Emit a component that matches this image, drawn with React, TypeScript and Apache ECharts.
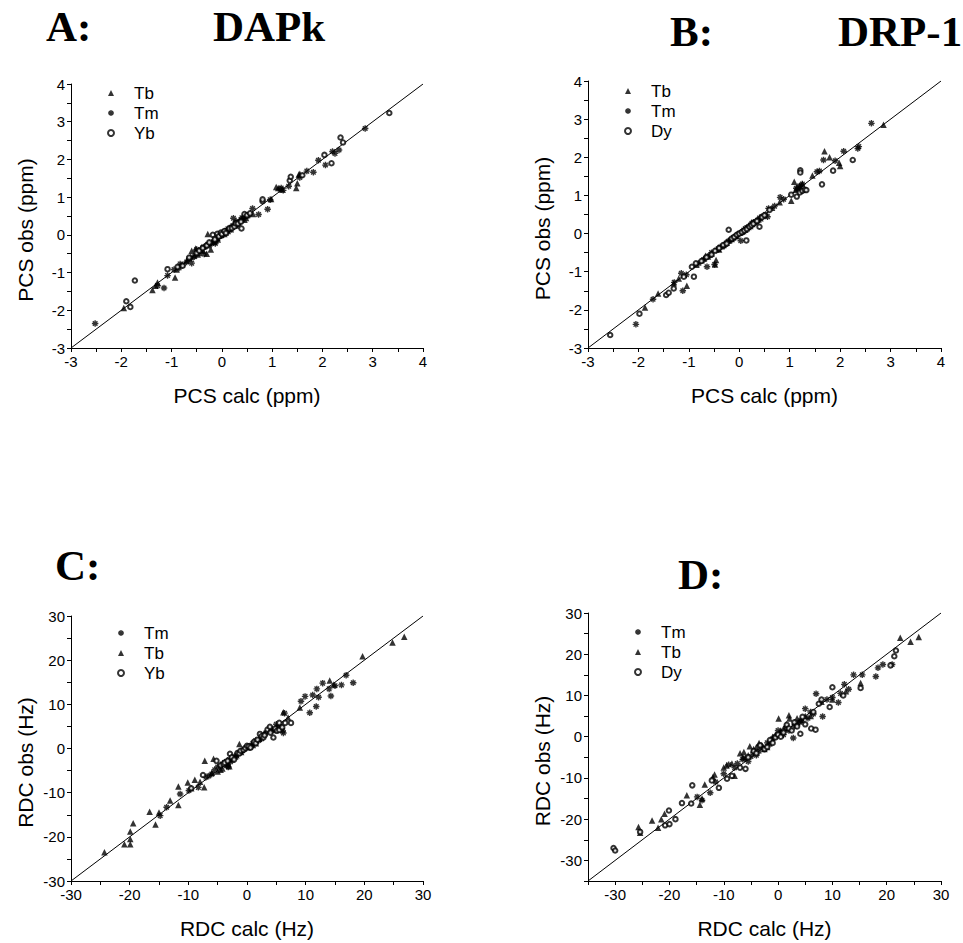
import React, { useEffect, useRef } from "react";
import * as echarts from "echarts";

// ---------- Data ----------
// Panel A: DAPk PCS (ppm)  [calc, obs]
const A_TB: number[][] = [
  [-1.95, -1.94], [-1.38, -1.46], [-1.32, -1.35], [-1.28, -1.26], [-0.93, -1.13], [-0.9, -0.92],
  [-0.7, -0.68], [-0.65, -0.62], [-0.62, -0.58], [-0.6, -0.42], [-0.55, -0.55], [-0.52, -0.36],
  [-0.48, -0.52], [-0.45, -0.48], [-0.42, -0.38], [-0.4, -0.32], [-0.38, -0.42], [-0.35, -0.3],
  [-0.3, -0.5], [-0.28, 0.02], [-0.25, -0.22], [-0.22, -0.39], [-0.18, -0.15], [-0.15, -0.18],
  [-0.1, -0.08], [-0.08, -0.12], [-0.05, -0.02], [-0.02, 0.0], [0.02, 0.05], [0.05, 0.02],
  [0.08, 0.06], [0.12, 0.1], [0.15, 0.18], [0.18, 0.15], [0.2, 0.22], [0.25, 0.3], [0.28, 0.25],
  [0.3, 0.28], [0.35, 0.38], [0.4, 0.42], [0.45, 0.4], [0.48, 0.45], [0.62, 0.55], [0.98, 0.95],
  [1.08, 1.27], [1.12, 1.24], [1.2, 1.2], [1.48, 1.24], [1.5, 1.37], [1.53, 1.6], [1.55, 1.62],
];
const A_TM: number[][] = [
  [-2.52, -2.35], [-1.28, -1.35], [-1.15, -1.41], [-1.08, -1.08], [-0.95, -0.92], [-0.85, -0.88],
  [-0.83, -0.77], [-0.78, -0.8], [-0.7, -0.72], [-0.65, -0.63], [-0.6, -0.75], [-0.55, -0.58],
  [-0.5, -0.39], [-0.48, -0.45], [-0.42, -0.4], [-0.38, -0.34], [-0.35, -0.51], [-0.32, -0.3],
  [-0.28, -0.25], [-0.25, -0.28], [-0.2, -0.22], [-0.16, -0.18], [-0.13, -0.23], [-0.12, -0.15],
  [-0.08, -0.1], [-0.05, -0.03], [0.0, -0.02], [0.02, 0.04], [0.05, 0.08], [0.1, 0.12],
  [0.12, 0.16], [0.15, 0.13], [0.18, 0.2], [0.22, 0.25], [0.23, 0.44], [0.26, 0.24], [0.28, 0.35],
  [0.3, 0.33], [0.34, 0.3], [0.38, 0.4], [0.4, 0.45], [0.45, 0.48], [0.48, 0.5], [0.52, 0.5],
  [0.61, 0.7], [0.73, 0.54], [0.91, 0.68], [0.96, 0.93], [1.16, 1.21], [1.18, 1.24], [1.22, 1.18],
  [1.33, 1.29], [1.55, 1.52], [1.69, 1.69], [1.82, 1.66], [1.92, 1.98], [2.06, 1.85], [2.2, 2.21],
  [2.25, 2.16], [2.33, 2.25], [2.85, 2.82],
];
const A_YB: number[][] = [
  [-1.9, -1.76], [-1.82, -1.91], [-1.73, -1.21], [-1.08, -0.91], [-0.88, -0.85], [-0.78, -0.82],
  [-0.65, -0.6], [-0.5, -0.48], [-0.45, -0.42], [-0.38, -0.35], [-0.3, -0.28], [-0.25, -0.2],
  [-0.18, 0.0], [-0.14, -0.12], [-0.09, 0.03], [-0.06, -0.04], [-0.02, 0.06], [0.0, 0.02],
  [0.05, 0.1], [0.08, 0.05], [0.15, 0.17], [0.2, 0.18], [0.25, 0.22], [0.28, 0.3], [0.32, 0.3],
  [0.38, 0.35], [0.39, 0.17], [0.45, 0.55], [0.5, 0.52], [0.56, 0.57], [0.81, 0.89], [0.81, 0.94],
  [1.35, 1.44], [1.37, 1.54], [1.6, 1.58], [2.04, 2.12], [2.18, 1.9], [2.36, 2.58], [2.41, 2.45],
  [3.33, 3.23],
];

// Panel B: DRP-1 PCS (ppm)
const B_TB: number[][] = [
  [-1.87, -1.94], [-1.61, -1.57], [-1.3, -1.3], [-1.2, -1.18], [-1.04, -1.37], [-0.85, -0.82],
  [-0.75, -0.7], [-0.7, -0.65], [-0.67, -0.58], [-0.62, -0.6], [-0.58, -0.55], [-0.55, -0.52],
  [-0.48, -0.81], [-0.46, -0.69], [-0.42, -0.4], [-0.4, -0.42], [-0.35, -0.33], [-0.32, -0.3],
  [-0.28, -0.26], [-0.25, -0.24], [-0.2, -0.18], [-0.15, -0.14], [-0.12, -0.1], [-0.08, -0.07],
  [-0.05, -0.06], [0.02, 0.02], [0.05, 0.05], [0.08, 0.07], [0.12, 0.1], [0.15, 0.14],
  [0.18, 0.17], [0.22, 0.2], [0.26, 0.25], [0.3, 0.3], [0.34, 0.33], [0.38, 0.37], [0.42, 0.4],
  [0.5, 0.48], [0.65, 0.68], [0.8, 0.82], [1.03, 0.86], [1.09, 1.36], [1.12, 1.15], [1.15, 1.22],
  [1.2, 1.25], [1.25, 1.3], [1.45, 1.52], [1.69, 2.16], [1.79, 2.0], [1.98, 1.86], [2.0, 1.77],
  [2.86, 2.85],
];
const B_TM: number[][] = [
  [-2.05, -2.38], [-1.71, -1.72], [-1.29, -1.28], [-1.15, -1.04], [-1.12, -1.5], [-1.05, -1.08],
  [-0.8, -0.78], [-0.7, -0.68], [-0.64, -0.87], [-0.6, -0.58], [-0.55, -0.5], [-0.49, -0.81],
  [-0.45, -0.44], [-0.42, -0.4], [-0.38, -0.35], [-0.3, -0.32], [-0.26, -0.25], [-0.22, -0.2],
  [-0.18, -0.17], [-0.15, -0.15], [-0.11, -0.1], [-0.08, -0.07], [-0.04, -0.04], [0.0, 0.01],
  [0.03, -0.19], [0.06, 0.05], [0.09, 0.09], [0.12, 0.13], [0.15, 0.15], [0.18, 0.17], [0.22, 0.22],
  [0.25, 0.27], [0.28, 0.3], [0.32, 0.3], [0.36, 0.35], [0.4, 0.41], [0.45, 0.45], [0.52, 0.5],
  [0.56, 0.44], [0.58, 0.66], [0.7, 0.72], [0.81, 0.95], [0.88, 0.9], [1.13, 1.19], [1.18, 1.15],
  [1.2, 1.25], [1.25, 1.3], [1.54, 1.62], [1.59, 1.64], [1.67, 1.93], [1.9, 1.91], [2.07, 2.16],
  [2.35, 2.23], [2.37, 2.28], [2.62, 2.89],
];
const B_DY: number[][] = [
  [-2.56, -2.66], [-1.98, -2.1], [-1.45, -1.61], [-1.4, -1.55], [-1.3, -1.44], [-1.1, -1.13],
  [-0.94, -0.87], [-0.9, -1.13], [-0.86, -0.78], [-0.75, -0.72], [-0.65, -0.62], [-0.55, -0.55],
  [-0.48, -0.45], [-0.4, -0.38], [-0.32, -0.3], [-0.25, -0.26], [-0.21, 0.1], [-0.15, -0.13],
  [-0.1, -0.09], [-0.05, -0.03], [0.0, 0.0], [0.05, 0.04], [0.1, 0.08], [0.14, -0.18], [0.15, 0.12],
  [0.2, 0.18], [0.24, 0.22], [0.28, 0.26], [0.35, 0.33], [0.4, 0.18], [0.45, 0.43], [0.5, 0.48],
  [0.6, 0.62], [1.03, 1.02], [1.14, 0.97], [1.2, 1.08], [1.21, 1.66], [1.21, 1.6], [1.25, 1.12],
  [1.3, 1.15], [1.33, 1.14], [1.64, 1.29], [1.86, 1.65], [2.25, 1.93],
];

// Panel C: DAPk RDC (Hz)
const C_TM: number[][] = [
  [-14.8, -15.2], [-13.7, -13.3], [-11.4, -10.3], [-9.9, -9.5], [-8.3, -8.8], [-7.0, -6.5],
  [-6.5, -6.2], [-6.0, -5.8], [-5.5, -4.8], [-5.0, -4.2], [-4.5, -4.0], [-4.2, -3.5], [-3.8, -3.2],
  [-3.5, -3.9], [-3.2, -4.2], [-3.0, -2.5], [-2.8, -3.0], [-2.5, -2.2], [-2.2, -2.0], [-1.8, -1.5],
  [-1.5, -1.2], [-1.0, -0.8], [-0.8, -0.5], [0.0, 0.2], [0.5, 0.3], [0.8, 0.6], [1.0, 1.2],
  [1.5, 1.8], [2.0, 1.8], [2.5, 2.2], [2.8, 3.0], [3.2, 3.5], [4.0, 4.5], [4.3, 4.0], [4.8, 4.2],
  [5.0, 5.5], [5.5, 5.0], [5.8, 4.5], [6.1, 4.0], [6.2, 3.5], [6.4, 8.0], [9.2, 10.7], [9.9, 11.8],
  [10.7, 8.1], [11.2, 12.1], [11.8, 9.5], [11.9, 13.5], [12.2, 11.6], [12.9, 14.8], [14.0, 13.5],
  [14.3, 11.9], [15.0, 14.2], [16.1, 14.4], [16.9, 16.6], [18.1, 14.9],
];
const C_TB: number[][] = [
  [-24.3, -23.5], [-20.9, -21.7], [-19.9, -21.7], [-19.9, -20.5], [-19.9, -18.8], [-19.4, -16.9],
  [-16.6, -14.3], [-15.6, -17.2], [-15.0, -14.5], [-13.1, -11.8], [-11.7, -12.8], [-11.7, -8.6],
  [-10.1, -7.7], [-9.5, -9.0], [-8.9, -7.1], [-8.0, -7.5], [-7.3, -8.8], [-7.2, -2.8], [-6.0, -5.5],
  [-5.7, -2.3], [-5.0, -5.2], [-4.5, -4.8], [-4.2, -4.5], [-3.8, -3.0], [-3.5, -2.8], [-3.2, -3.5],
  [-3.0, -4.0], [-2.5, -2.5], [-2.0, -1.8], [-1.8, -1.5], [-1.3, 1.0], [-1.0, -0.8], [-0.5, 0.0],
  [0.0, 0.3], [0.5, 0.5], [1.0, 0.8], [1.5, 1.2], [2.0, 2.2], [3.0, 3.5], [4.0, 4.2], [5.0, 5.0],
  [6.2, 8.2], [7.0, 7.0], [9.0, 9.3], [14.1, 15.4], [14.8, 14.5], [19.7, 20.9], [24.8, 24.0],
  [26.8, 25.3],
];
const C_YB: number[][] = [
  [-9.5, -9.0], [-7.5, -6.0], [-5.2, -2.8], [-4.5, -3.8], [-4.0, -3.5], [-3.8, -3.2], [-3.3, -2.8],
  [-2.9, -1.2], [-2.6, -2.0], [-2.2, -2.5], [-1.6, -1.0], [-1.3, -1.1], [-1.1, -0.5], [-0.6, -0.3],
  [-0.3, 0.1], [0.0, 0.6], [0.3, 0.5], [0.6, 0.2], [1.2, 1.5], [1.5, 1.2], [1.8, 2.0], [2.2, 3.3],
  [2.5, 2.8], [2.8, 2.5], [3.0, 3.0], [3.5, 4.3], [3.9, 4.9], [4.0, 3.6], [4.5, 2.5], [4.8, 4.5],
  [5.1, 4.0], [5.5, 5.8], [5.5, 4.2], [6.0, 4.8], [6.5, 5.8], [7.5, 5.8],
];

// Panel D: DRP-1 RDC (Hz)
const D_TM: number[][] = [
  [-14.9, -14.6], [-14.0, -15.4], [-12.5, -13.6], [-11.5, -11.0], [-10.0, -9.0], [-9.1, -6.8],
  [-8.0, -7.5], [-7.5, -6.5], [-6.5, -5.5], [-6.0, -5.2], [-5.5, -6.0], [-5.0, -4.8], [-4.5, -3.8],
  [-4.0, -4.5], [-3.5, -3.5], [-3.0, -2.5], [-2.5, -3.0], [-2.0, -1.5], [-1.5, -1.8], [-1.0, -0.5],
  [-0.5, 0.0], [0.0, 1.5], [0.5, 1.0], [1.0, 0.5], [1.5, 2.0], [2.0, 1.5], [2.8, -0.3], [3.0, 2.5],
  [3.5, 3.0], [4.0, 3.5], [4.2, 4.0], [5.0, 6.8], [5.5, 4.5], [6.0, 6.0], [6.5, 5.5], [7.0, 10.4],
  [8.2, 4.9], [9.0, 9.0], [10.0, 9.5], [11.1, 8.3], [11.5, 10.5], [12.2, 12.7], [13.0, 11.5],
  [13.9, 15.0], [15.5, 15.0], [18.0, 14.6], [18.4, 16.7], [19.3, 17.5], [21.0, 17.5],
];
const D_TB: number[][] = [
  [-25.7, -21.9], [-25.4, -23.3], [-23.2, -20.3], [-22.1, -22.1], [-21.5, -20.0], [-20.9, -18.7],
  [-16.8, -14.2], [-14.4, -16.5], [-14.0, -15.0], [-13.5, -11.6], [-12.0, -9.8], [-11.7, -9.2],
  [-10.0, -7.5], [-9.5, -7.0], [-8.5, -6.5], [-8.0, -9.5], [-7.0, -4.0], [-6.5, -5.0], [-6.3, -3.7],
  [-5.5, -4.5], [-5.2, -2.3], [-4.5, -3.0], [-4.0, -2.5], [-3.5, -1.5], [-3.0, -2.0], [-2.5, -3.0],
  [-2.0, -2.5], [-1.5, -1.0], [-1.0, 0.0], [-0.5, 0.5], [0.1, 4.4], [0.5, 1.5], [1.0, 2.0],
  [1.5, 3.0], [2.0, 5.2], [2.1, 4.4], [3.0, 3.5], [3.5, 4.5], [4.5, 4.0], [5.0, 5.0], [6.0, 5.0],
  [8.0, 8.5], [10.0, 9.0], [12.5, 11.0], [15.2, 13.0], [22.5, 24.0], [24.4, 23.0], [25.9, 24.2],
];
const D_DY: number[][] = [
  [-30.3, -27.0], [-30.0, -27.6], [-25.4, -23.1], [-20.8, -21.5], [-20.1, -17.9], [-20.0, -21.2],
  [-18.9, -20.0], [-17.7, -16.1], [-16.0, -16.2], [-15.8, -11.8], [-12.2, -10.6], [-10.9, -12.4],
  [-9.4, -10.2], [-8.5, -9.5], [-7.0, -7.5], [-6.0, -7.8], [-5.5, -5.0], [-4.5, -3.5], [-4.0, -4.0],
  [-3.3, -2.1], [-2.5, -3.0], [-2.0, -2.5], [-1.5, -0.8], [-1.0, -1.5], [-0.5, -0.2], [0.0, 0.5],
  [0.5, 0.0], [1.0, 1.0], [1.6, 2.9], [2.0, 2.0], [2.5, 1.5], [3.0, 3.5], [3.5, 2.5], [4.1, 0.7],
  [4.5, 4.8], [5.0, 3.0], [6.1, 2.0], [6.5, 6.0], [6.9, 1.7], [7.5, 8.0], [8.0, 9.0], [9.5, 7.2],
  [10.0, 12.0], [12.0, 10.0], [15.2, 11.8], [20.7, 17.3], [21.4, 19.5], [21.7, 20.9],
];

// Axis ranges and labels
const PCS_RANGE = [-3, 4];
const RDC_C_RANGE = [-30, 30];
const RDC_D_RANGE = [-35, 30];
const PANEL_TITLES = [["A:", "DAPk"], ["B:", "DRP-1"], ["C:", ""], ["D:", ""]];
const X_NAMES = ["PCS calc (ppm)", "PCS calc (ppm)", "RDC calc (Hz)", "RDC calc (Hz)"];
const Y_NAMES = ["PCS obs (ppm)", "PCS obs (ppm)", "RDC obs (Hz)", "RDC obs (Hz)"];

const SANS = 'Arial, "Liberation Sans", Helvetica, sans-serif';
const SERIF = '"Times New Roman", "Liberation Serif", serif';
const ASTERISK = "path://M0,5L10,5M5,0L5,10M1.5,1.5L8.5,8.5M8.5,1.5L1.5,8.5";

const TM_STYLE = { color: "rgba(0,0,0,0)", borderColor: "#000", borderWidth: 1.4 };
const CIRCLE_STYLE = { color: "#000", borderColor: "#000", borderWidth: 0.9 };
const SYMBOLS: Record<string, any> = {
  Tb: { symbol: "triangle", symbolSize: 6.5, itemStyle: { color: "#000" } },
  Tm: { symbol: ASTERISK, symbolSize: 6.5, itemStyle: TM_STYLE },
  Yb: { symbol: "emptyCircle", symbolSize: 4.5, itemStyle: CIRCLE_STYLE },
  Dy: { symbol: "emptyCircle", symbolSize: 4.5, itemStyle: CIRCLE_STYLE },
};
const LEGEND_ICON: Record<string, any> = {
  Tb: { icon: "triangle", itemStyle: { color: "#000" } },
  Tm: { icon: ASTERISK, itemStyle: TM_STYLE },
  Yb: { icon: "emptyCircle", itemStyle: CIRCLE_STYLE },
  Dy: { icon: "emptyCircle", itemStyle: CIRCLE_STYLE },
};

export default function App() {
  const ref = useRef<HTMLDivElement>(null);

  useEffect(() => {
    document.body.style.margin = "0";
    if (!ref.current) return;
    const chart = echarts.init(ref.current, null, { renderer: "svg" });

    const grids = [
      { left: 71, top: 84, width: 352, height: 264 },
      { left: 588, top: 81, width: 353, height: 267 },
      { left: 71, top: 616, width: 352, height: 265 },
      { left: 588, top: 613, width: 353, height: 268 },
    ];
    const ranges = [PCS_RANGE, PCS_RANGE, RDC_C_RANGE, RDC_D_RANGE];
    const steps = [0.5, 0.5, 5, 5];
    const labelSteps = [1, 1, 10, 10];

    const panels = [
      { series: [["Tb", A_TB], ["Tm", A_TM], ["Yb", A_YB]], legend: [110, 83] },
      { series: [["Tb", B_TB], ["Tm", B_TM], ["Dy", B_DY]], legend: [627, 81] },
      { series: [["Tm", C_TM], ["Tb", C_TB], ["Yb", C_YB]], legend: [120, 623] },
      { series: [["Tm", D_TM], ["Tb", D_TB], ["Dy", D_DY]], legend: [637, 622] },
    ];

    const mkAxis = (i: number, isX: boolean) => {
      const [min, max] = ranges[i];
      const ls = labelSteps[i];
      return {
        type: "value",
        gridIndex: i,
        min,
        max,
        interval: steps[i],
        name: isX ? X_NAMES[i] : Y_NAMES[i],
        nameLocation: "middle",
        nameGap: isX ? 37 : 35,
        nameTextStyle: {
          fontFamily: SANS,
          fontSize: 21,
          color: "#000",
          padding: isX ? 0 : [0, 28, 0, 0],
        },
        axisLine: { show: true, onZero: false, lineStyle: { color: "#000", width: 1 } },
        axisTick: { show: true, inside: false, length: 4, lineStyle: { color: "#000", width: 1 } },
        axisLabel: {
          show: true,
          margin: 6,
          color: "#000",
          fontFamily: SANS,
          fontSize: 15,
          showMinLabel: true,
          showMaxLabel: true,
          formatter: (v: number) => {
            const q = v / ls;
            return Math.abs(q - Math.round(q)) < 1e-6 ? String(Math.round(v * 100) / 100) : "";
          },
        },
        splitLine: { show: false },
      };
    };

    const series: any[] = [];
    const legends: any[] = [];
    panels.forEach((p, i) => {
      const [min, max] = ranges[i];
      series.push({
        type: "line",
        xAxisIndex: i,
        yAxisIndex: i,
        data: [[min, min], [max, max]],
        symbol: "none",
        silent: true,
        lineStyle: { color: "#000", width: 1 },
        z: 1,
      });
      p.series.forEach(([name, data]: any) => {
        series.push({
          type: "scatter",
          name,
          xAxisIndex: i,
          yAxisIndex: i,
          data,
          z: 3,
          ...SYMBOLS[name],
        });
      });
      legends.push({
        orient: "vertical",
        left: p.legend[0] - 3,
        top: p.legend[1],
        padding: 0,
        itemGap: 0,
        itemWidth: 6,
        itemHeight: 6,
        selectedMode: false,
        data: p.series.map((s: any) => ({ name: s[0], ...LEGEND_ICON[s[0]] })),
        textStyle: {
          fontFamily: SANS,
          fontSize: 17,
          color: "#000",
          lineHeight: 20,
          padding: [0, 0, 0, 15],
        },
      });
    });

    const titlePos = [
      [46, 27, 213],
      [670, 32, 838],
      [55, 566, 0],
      [678, 575, 0],
    ];
    const graphics: any[] = [];
    PANEL_TITLES.forEach(([a, b], i) => {
      const [x1, y, x2] = titlePos[i];
      graphics.push({
        type: "text",
        left: x1,
        top: y - 22,
        style: { text: a, font: `bold 43px ${SERIF}`, fill: "#000" },
      });
      if (b) {
        graphics.push({
          type: "text",
          left: x2,
          top: y - 22,
          style: { text: b, font: `bold 43px ${SERIF}`, fill: "#000" },
        });
      }
    });

    chart.setOption({
      animation: false,
      backgroundColor: "#fff",
      grid: grids,
      xAxis: [0, 1, 2, 3].map((i) => mkAxis(i, true)),
      yAxis: [0, 1, 2, 3].map((i) => mkAxis(i, false)),
      legend: legends,
      series,
      graphic: graphics,
    });

    return () => chart.dispose();
  }, []);

  return <div ref={ref} style={{ width: 963, height: 943 }} />;
}
